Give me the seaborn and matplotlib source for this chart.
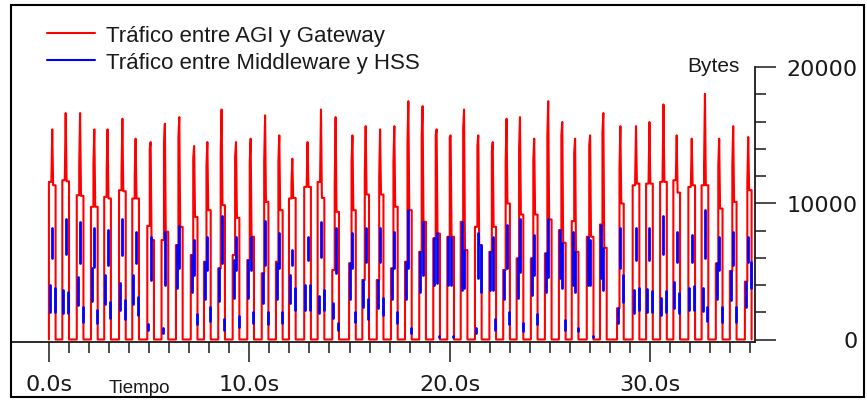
import numpy as np
import pandas as pd
import matplotlib
matplotlib.use("Agg")
import matplotlib.pyplot as plt
from matplotlib.patches import Rectangle
from matplotlib.lines import Line2D
from matplotlib.ticker import FixedLocator
import seaborn as sns

# ---------------- data ----------------
series_labels = ["Tráfico entre AGI y Gateway", "Tráfico entre Middleware y HSS"]

# start time (s) of each traffic burst
pulse_start = [0.00, 0.67, 1.39, 2.10, 2.76, 3.50, 4.16, 4.91, 5.62, 6.34,
               7.08, 7.74, 8.45, 9.17, 9.90, 10.62, 11.33, 11.98, 12.74, 13.41,
               14.14, 14.98, 15.64, 16.36, 17.07, 17.77, 18.48, 19.18, 19.88, 20.55,
               21.26, 21.98, 22.67, 23.34, 24.05, 24.75, 25.45, 26.09, 26.84, 27.50,
               28.35, 29.13, 29.80, 30.50, 31.16, 31.91, 32.57, 33.28, 33.98, 34.73]

# red series (bytes): first level, top of dense part, peak, last level
red_first = [11570, 11690, 10590, 9740, 10470, 10960, 10350, 8340, 7300, 6930,
             6200, 5710, 5220, 6200, 5830, 4860, 5710, 10350, 11200, 11570,
             5100, 5590, 4370, 4370, 5220, 5710, 6440, 7420, 7540, 8640,
             8270, 6440, 5100, 5950, 5950, 6320, 8030, 8690, 7540, 8440,
             2290, 11320, 11440, 11570, 11690, 11200, 11320, 5590, 5030, 4250]
red_dense = [11570, 11690, 12790, 12910, 12350, 12100, 12000, 14010, 14370, 14860,
             13320, 12790, 13690, 13400, 13030, 13030, 13030, 11320, 11200, 11810,
             11440, 13030, 12100, 12000, 13030, 14370, 14980, 14980, 14860, 15470,
             14250, 13760, 13030, 14010, 13150, 14980, 14980, 13710, 14250, 15230,
             12540, 11570, 11440, 12100, 11690, 11200, 12790, 12790, 12790, 11570]
red_peak = [15420, 16620, 16620, 15420, 15420, 16200, 14740, 14490, 15840, 16320,
            14200, 14490, 16880, 14490, 14740, 16450, 14980, 13270, 14490, 16880,
            16320, 14980, 15660, 15420, 15660, 17490, 17130, 15420, 14980, 16880,
            14980, 14490, 16200, 16320, 14740, 17490, 15960, 14740, 14980, 16620,
            15660, 15660, 15960, 17250, 14980, 14740, 18030, 14740, 15660, 14860]
red_last = [11320, 11610, 10540, 9740, 10350, 10880, 10350, 7300, 7910, 8270,
            9000, 9490, 9860, 8930, 7540, 10100, 9490, 10390, 11200, 10390,
            9370, 9490, 10640, 10640, 9740, 9490, 8640, 7780, 7540, 6560,
            6930, 8270, 9980, 9170, 9170, 8810, 7100, 6440, 7540, 6730,
            9980, 11440, 11440, 11570, 10780, 11320, 11320, 9610, 10100, 10960]

# blue series (bytes): ranges of the three dense runs in each burst (0 = none)
blue_a_lo = [2050, 1930, 2540, 2830, 2590, 2170, 2590, 710, 460, 3760,
             3510, 2980, 2830, 3070, 3070, 2660, 2980, 2660, 2170, 1930,
             1560, 2980, 2420, 2290, 2980, 2980, 3510, 4000, 4000, 3640,
             460, 3640, 2980, 3070, 3270, 3460, 4490, 4000, 4000, 4490,
             1200, 1930, 2000, 1810, 2290, 2170, 2100, 2980, 2900, 2420]
blue_a_hi = [4000, 3640, 4610, 5220, 4730, 4120, 4730, 1120, 880, 6930,
             6200, 5710, 5220, 5830, 5830, 4860, 5590, 4730, 4000, 3220,
             2660, 5590, 4370, 4370, 5220, 5710, 6440, 7420, 7540, 8640,
             830, 6440, 5100, 5950, 5950, 6320, 8030, 7910, 7540, 8440,
             2290, 3640, 3710, 3070, 4200, 3810, 3810, 5590, 5030, 4250]
blue_b_lo = [5950, 6250, 5590, 5340, 5470, 6200, 5590, 4370, 4000, 5220,
             4730, 5100, 5590, 5100, 5100, 5470, 5220, 5470, 5830, 6080,
             4860, 5220, 5710, 5710, 5220, 5220, 4730, 4120, 4000, 3760,
             4490, 3640, 5220, 4980, 4730, 4610, 3760, 3510, 4000, 3640,
             5220, 5830, 5830, 6250, 5710, 5710, 5950, 5100, 5470, 5710]
blue_b_hi = [8150, 8830, 8640, 8150, 8030, 8830, 7910, 7540, 7910, 8340,
             7300, 7540, 9080, 7540, 7540, 8690, 7780, 6560, 7540, 8590,
             8150, 7780, 8150, 8150, 7910, 9490, 8640, 7780, 7540, 6560,
             7780, 7540, 8440, 8830, 7660, 8810, 7100, 6440, 7300, 6730,
             8150, 8150, 8150, 9080, 7910, 7660, 9490, 7540, 7910, 7540]
blue_c_lo = [2050, 1930, 1320, 1200, 1560, 1510, 1810, 0, 0, 0,
             1120, 1370, 710, 950, 1200, 1120, 1200, 2170, 2170, 2170,
             710, 1270, 1510, 1810, 1200, 460, 0, 150, 150, 0,
             3510, 710, 1120, 590, 1120, 0, 710, 590, 150, 0,
             2780, 2170, 2000, 2000, 1930, 2170, 1370, 1320, 1320, 3760]
blue_c_hi = [3760, 3460, 2420, 2170, 2780, 2900, 3150, 0, 0, 0,
             1850, 2420, 1510, 1730, 2000, 2000, 2000, 3810, 4000, 3640,
             1200, 2000, 2980, 3030, 2000, 880, 0, 290, 290, 0,
             6930, 1510, 2000, 1200, 1850, 0, 1420, 830, 290, 0,
             4730, 3810, 3560, 3560, 3390, 3900, 2420, 2420, 2420, 5710]

x_major_ticks = [0, 10, 20, 30]
x_major_labels = ["0.0s", "10.0s", "20.0s", "30.0s"]
x_minor_ticks = list(range(0, 36))
y_major_ticks = [0, 10000, 20000]
y_major_labels = ["0", "10000", "20000"]
y_minor_ticks = list(range(0, 20001, 2000))

# ---------------- build drawing tables ----------------
STEP = 0.167   # width of one sample interval (s)
JOG = 0.045    # small horizontal offset inside the dense part (s)

red_t, red_v = [], []
for t0, a, u, p, b in zip(pulse_start, red_first, red_dense, red_peak, red_last):
    pts = [(t0, 0), (t0, a), (t0 + STEP - JOG, a), (t0 + STEP - JOG, u),
           (t0 + STEP, p), (t0 + STEP + JOG, b), (t0 + 2 * STEP, b), (t0 + 2 * STEP, 0)]
    for t, v in pts:
        red_t.append(t)
        red_v.append(v)
red_df = pd.DataFrame({"t": red_t, "bytes": red_v})

blue_rows = []
seg = 0
offsets = [0.05, STEP, 2 * STEP - 0.04]
for i, t0 in enumerate(pulse_start):
    ranges = [(blue_a_lo[i], blue_a_hi[i]), (blue_b_lo[i], blue_b_hi[i]),
              (blue_c_lo[i], blue_c_hi[i])]
    for off, (lo, hi) in zip(offsets, ranges):
        if hi > lo:
            blue_rows.append({"t": t0 + off, "bytes": lo, "seg": seg})
            blue_rows.append({"t": t0 + off, "bytes": hi, "seg": seg})
            seg += 1
blue_df = pd.DataFrame(blue_rows)

# ---------------- figure ----------------
sns.set_style("white")
plt.rcParams["font.family"] = ["DejaVu Sans"]

W, H = 867, 402
fig = plt.figure(figsize=(W / 100, H / 100), dpi=100)
fig.patch.set_facecolor("white")

ax_left, ax_right, ax_bottom, ax_top = 11, 755, 342.5, 6
ax = fig.add_axes([ax_left / W, (H - ax_bottom) / H,
                   (ax_right - ax_left) / W, (ax_bottom - ax_top) / H])
ax.set_facecolor("none")

red = "#ff0000"
blue = "#0000ff"

sns.lineplot(data=red_df, x="t", y="bytes", estimator=None, sort=False,
             color=red, linewidth=1.5, ax=ax, legend=False)
sns.lineplot(data=blue_df, x="t", y="bytes", units="seg", estimator=None, sort=False,
             color=blue, linewidth=2.0, ax=ax, legend=False)

px_per_s = 20.04
x0_px = 48.9
ax.set_xlim((ax_left - x0_px) / px_per_s, (ax_right - x0_px) / px_per_s)
bytes_per_px = 20000 / (340.5 - 68)
ax.set_ylim(-(ax_bottom - 340.5) * bytes_per_px, 20000 + (68 - ax_top) * bytes_per_px)

ax.set_xlabel("")
ax.set_ylabel("")

for s in ["top", "left"]:
    ax.spines[s].set_visible(False)
ink = "#1a1a1a"
ax.spines["bottom"].set_color(ink)
ax.spines["bottom"].set_linewidth(1.3)
ax.spines["right"].set_color(ink)
ax.spines["right"].set_linewidth(1.3)
ax.spines["right"].set_bounds(ax.get_ylim()[0], 20000)

ax.xaxis.set_major_locator(FixedLocator(x_major_ticks))
ax.set_xticklabels(x_major_labels)
ax.xaxis.set_minor_locator(FixedLocator([t for t in x_minor_ticks if t not in x_major_ticks]))
ax.yaxis.tick_right()
ax.yaxis.set_major_locator(FixedLocator(y_major_ticks))
ax.set_yticklabels(y_major_labels)
ax.yaxis.set_minor_locator(FixedLocator([t for t in y_minor_ticks if t not in y_major_ticks]))

ax.tick_params(axis="x", which="major", direction="out", length=14.4, width=1.1,
               color=ink, labelsize=16, labelcolor=ink, pad=9, bottom=True)
ax.tick_params(axis="x", which="minor", direction="out", length=7.9, width=1.1,
               color=ink, bottom=True)
ax.tick_params(axis="y", which="major", direction="out", length=15, width=1.1,
               color=ink, labelsize=16, labelcolor=ink, pad=59, right=True, left=False)
ax.tick_params(axis="y", which="minor", direction="out", length=8, width=1.1,
               color=ink, right=True, left=False)
for lbl in ax.get_yticklabels():
    lbl.set_horizontalalignment("right")
    lbl.set_fontfamily("DejaVu Sans")
for lbl in ax.get_xticklabels():
    lbl.set_fontfamily("DejaVu Sans")

# legend
handles = [Line2D([], [], color=red, lw=1.5), Line2D([], [], color=blue, lw=1.5)]
fig.legend(handles, series_labels, loc="upper left",
           bbox_to_anchor=(47 / W, 1 - 26 / H), frameon=False,
           prop={"family": "Liberation Sans", "size": 16},
           handlelength=2.15, handletextpad=0.5, borderpad=0, borderaxespad=0,
           labelspacing=0.25, labelcolor=ink)

fig.text(713 / W, 1 - 67 / H, "Bytes", ha="center", va="center",
         fontsize=15, family="Liberation Sans", color=ink)
fig.text(139 / W, 1 - 389 / H, "Tiempo", ha="center", va="center",
         fontsize=13.5, family="Liberation Sans", color=ink)

# outer frame
fig.patches.append(Rectangle((11 / W, 1 - 398 / H), (864 - 11) / W, (398 - 6) / H,
                             transform=fig.transFigure, fill=False,
                             edgecolor="black", linewidth=1.5))

fig.savefig("out.png", dpi=100)
